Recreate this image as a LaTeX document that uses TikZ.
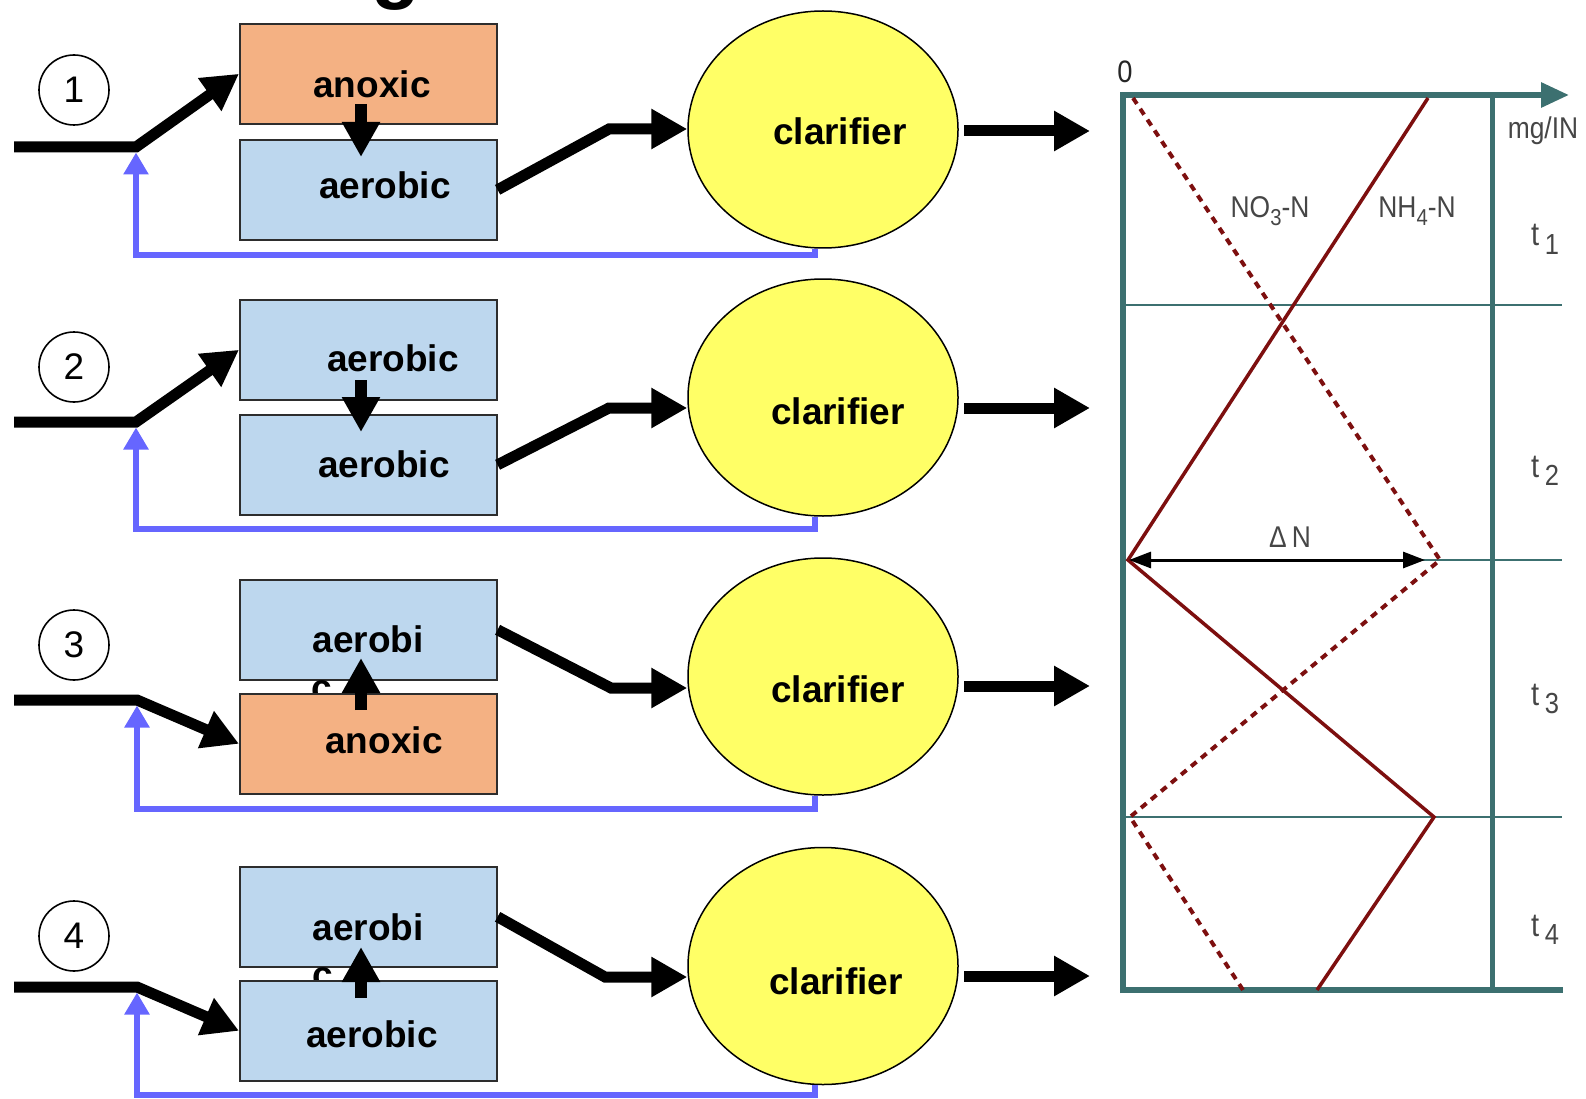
\documentclass[tikz,border=0pt]{standalone}
\usepackage{fontspec}
\setmainfont{Liberation Sans}
\newfontfamily\chartfont[FakeStretch=0.88]{Liberation Sans}
\usetikzlibrary{arrows.meta,shapes.geometric,calc}
\definecolor{anoxfill}{RGB}{244,177,131}
\definecolor{aerofill}{RGB}{189,215,238}
\definecolor{clarfill}{RGB}{255,255,102}
\definecolor{fbblue}{RGB}{102,102,255}
\definecolor{boxline}{RGB}{45,45,45}
\definecolor{chartteal}{RGB}{60,112,112}
\definecolor{chartred}{RGB}{125,15,15}
\definecolor{chartgray}{RGB}{70,70,70}
\newcommand\lowidx[1]{\raisebox{-0.45ex}{\fontsize{23}{23}\selectfont #1}}
\newcommand\tidx[1]{\raisebox{-0.5ex}{\fontsize{29}{29}\selectfont #1}}
\begin{document}
\begin{tikzpicture}[x=1pt,y=-1pt,
  stage/.style={draw=boxline, line width=1.6pt, minimum width=257pt, minimum height=100pt, inner sep=0pt, anchor=north west},
  anox/.style={stage, fill=anoxfill},
  aero/.style={stage, fill=aerofill},
  lbl/.style={font=\bfseries\fontsize{37}{37}\selectfont, inner sep=0pt, anchor=base},
  clar/.style={ellipse, draw=black, line width=1.5pt, fill=clarfill, minimum width=270pt, minimum height=237pt, inner sep=0pt},
  num/.style={circle, draw=black, line width=1.6pt, minimum size=70pt, inner sep=0pt, font=\fontsize{37}{37}\selectfont},
  flow/.style={line width=11pt, -{Triangle[length=36pt,width=38pt]}},
  vflow/.style={line width=12.5pt, -{Triangle[length=35pt,width=36pt]}},
  fb/.style={draw=fbblue, line width=6pt, -{Triangle[length=22pt,width=24pt]}},
  axis/.style={draw=chartteal, line width=6pt},
  grid/.style={draw=chartteal, line width=2.5pt},
  nh/.style={draw=chartred, line width=3.5pt},
  no/.style={draw=chartred, line width=4pt, dash pattern=on 7pt off 6pt},
  clbl/.style={font=\chartfont\fontsize{30}{30}\selectfont, text=chartgray, inner sep=0pt, anchor=base},
  tlbl/.style={font=\chartfont\fontsize{33}{33}\selectfont, text=chartgray, inner sep=0pt, anchor=base west}]
\useasboundingbox (0,0) rectangle (1586,1099);
\clip (0,0) rectangle (1586,1099);
\fill[white] (0,0) rectangle (1586,1099);

% partial title letter
\node[font=\bfseries\fontsize{80}{80}\selectfont, inner sep=0pt, anchor=base] (title) at (396,-6) {g};

% ---------- Row 1 ----------
\node[num] (n1) at (74,90) {1};
\node[anox] (t1box) at (239,23) {};
\node[aero] (b1box) at (239,139) {};
\node[lbl] (t1txt) at (372,98) {anoxic};
\node[lbl] (b1txt) at (385,199) {aerobic};
\coordinate (d1a) at (361,104); \coordinate (d1b) at (361,157);
\draw[vflow] (d1a) -- (d1b);
\node[clar] (cl1) at (823,129.5) {};
\node[lbl] (cl1txt) at (840,145) {clarifier};
\coordinate (in1) at (14,147); \coordinate (j1) at (136,147);
\draw[flow] (in1) -- (j1) -- (t1box.west);
\coordinate (k1) at (609,129);
\draw[flow] (b1box.east) -- (k1) -- (k1 -| cl1.west);
\coordinate (s1) at (964,131); \coordinate (o1) at (1090,131);
\draw[flow] (s1) -- (o1);
\coordinate (r1) at (815,255);
\draw[fb] (r1 |- cl1.south) -- (r1) -| ([yshift=-5.5pt]j1);

% ---------- Row 2 ----------
\node[num] (n2) at (74,367) {2};
\node[aero] (t2box) at (239,299) {};
\node[aero] (b2box) at (239,414) {};
\node[lbl] (t2txt) at (393,371) {aerobic};
\node[lbl] (b2txt) at (384,477) {aerobic};
\coordinate (d2a) at (361,380); \coordinate (d2b) at (361,432);
\draw[vflow] (d2a) -- (d2b);
\node[clar] (cl2) at (823,397.5) {};
\node[lbl] (cl2txt) at (838,424) {clarifier};
\coordinate (in2) at (14,422); \coordinate (j2) at (136,422);
\draw[flow] (in2) -- (j2) -- (t2box.west);
\coordinate (k2) at (609,408);
\draw[flow] (b2box.east) -- (k2) -- (k2 -| cl2.west);
\coordinate (s2) at (964,408); \coordinate (o2) at (1090,408);
\draw[flow] (s2) -- (o2);
\coordinate (r2) at (815,529);
\draw[fb] (r2 |- cl2.south) -- (r2) -| ([yshift=-5.5pt]j2);

% ---------- Row 3 ----------
\node[num] (n3) at (74,645) {3};
\node[aero] (t3box) at (239,579) {};
\node[lbl] (t3txt) at (368,652) {aerobi};
\node[lbl] (t3c) at (322,700) {c};
\node[anox] (b3box) at (239,693) {};
\node[lbl] (b3txt) at (384,753) {anoxic};
\coordinate (d3a) at (361,710); \coordinate (d3b) at (361,658);
\draw[vflow] (d3a) -- (d3b);
\node[clar] (cl3) at (823,676.5) {};
\node[lbl] (cl3txt) at (838,702) {clarifier};
\coordinate (in3) at (14,700); \coordinate (j3) at (137,700);
\draw[flow] (in3) -- (j3) -- (b3box.west);
\coordinate (k3) at (611,688);
\draw[flow] (t3box.east) -- (k3) -- (k3 -| cl3.west);
\coordinate (s3) at (964,686); \coordinate (o3) at (1090,686);
\draw[flow] (s3) -- (o3);
\coordinate (r3) at (815,809);
\draw[fb] (r3 |- cl3.south) -- (r3) -| ([yshift=-5.5pt]j3);

% ---------- Row 4 ----------
\node[num] (n4) at (74,936) {4};
\node[aero] (t4box) at (239,866) {};
\node[lbl] (t4txt) at (368,940) {aerobi};
\node[lbl] (t4c) at (323,987) {c};
\node[aero] (b4box) at (239,980) {};
\node[lbl] (b4txt) at (372,1047) {aerobic};
\coordinate (d4a) at (361,998); \coordinate (d4b) at (361,947);
\draw[vflow] (d4a) -- (d4b);
\node[clar] (cl4) at (823,966) {};
\node[lbl] (cl4txt) at (836,994) {clarifier};
\coordinate (in4) at (14,987); \coordinate (j4) at (137,987);
\draw[flow] (in4) -- (j4) -- (b4box.west);
\coordinate (k4) at (605,977);
\draw[flow] (t4box.east) -- (k4) -- (k4 -| cl4.west);
\coordinate (s4) at (964,976); \coordinate (o4) at (1090,976);
\draw[flow] (s4) -- (o4);
\coordinate (r4) at (815,1095);
\draw[fb] (r4 |- cl4.south) -- (r4) -| ([yshift=-5.5pt]j4);

% ---------- Chart ----------
\draw[grid] (1123,305) -- (1562,305);
\draw[grid] (1123,560) -- (1562,560);
\draw[grid] (1123,817) -- (1562,817);
\draw[draw=chartteal, line width=5pt] (1492,95) -- (1492,990);
\draw[axis] (1120,990) -- (1563,990);
\draw[axis] (1123,993) -- (1123,95);
\draw[axis, -{Triangle[length=28pt,width=24pt]}] (1120,95) -- (1569,95);
\draw[nh] (1428,98) -- (1128,560) -- (1434,817) -- (1317,990);
\draw[no] (1133,98) -- (1440,560) -- (1130,817) -- (1243,990);
\draw[line width=3pt, {Triangle[length=22pt,width=16pt]}-{Triangle[length=22pt,width=16pt]}] (1129,560) -- (1425,560);
\node[clbl] (dn) at (1290,547) {Δ\,N};
\node[clbl] (no3) at (1270,218) {NO\lowidx{3}-N};
\node[clbl] (nh4) at (1417,218) {NH\lowidx{4}-N};
\node[clbl] (unit) at (1543,139) {mg/IN};
\node[font=\chartfont\fontsize{31}{31}\selectfont, text=black!85, inner sep=0pt] (zero) at (1125,72) {0};
\node[tlbl] (tt1) at (1531,246) {t\,\tidx{1}};
\node[tlbl] (tt2) at (1531,477) {t\,\tidx{2}};
\node[tlbl] (tt3) at (1531,705) {t\,\tidx{3}};
\node[tlbl] (tt4) at (1531,936) {t\,\tidx{4}};
\end{tikzpicture}
\end{document}
